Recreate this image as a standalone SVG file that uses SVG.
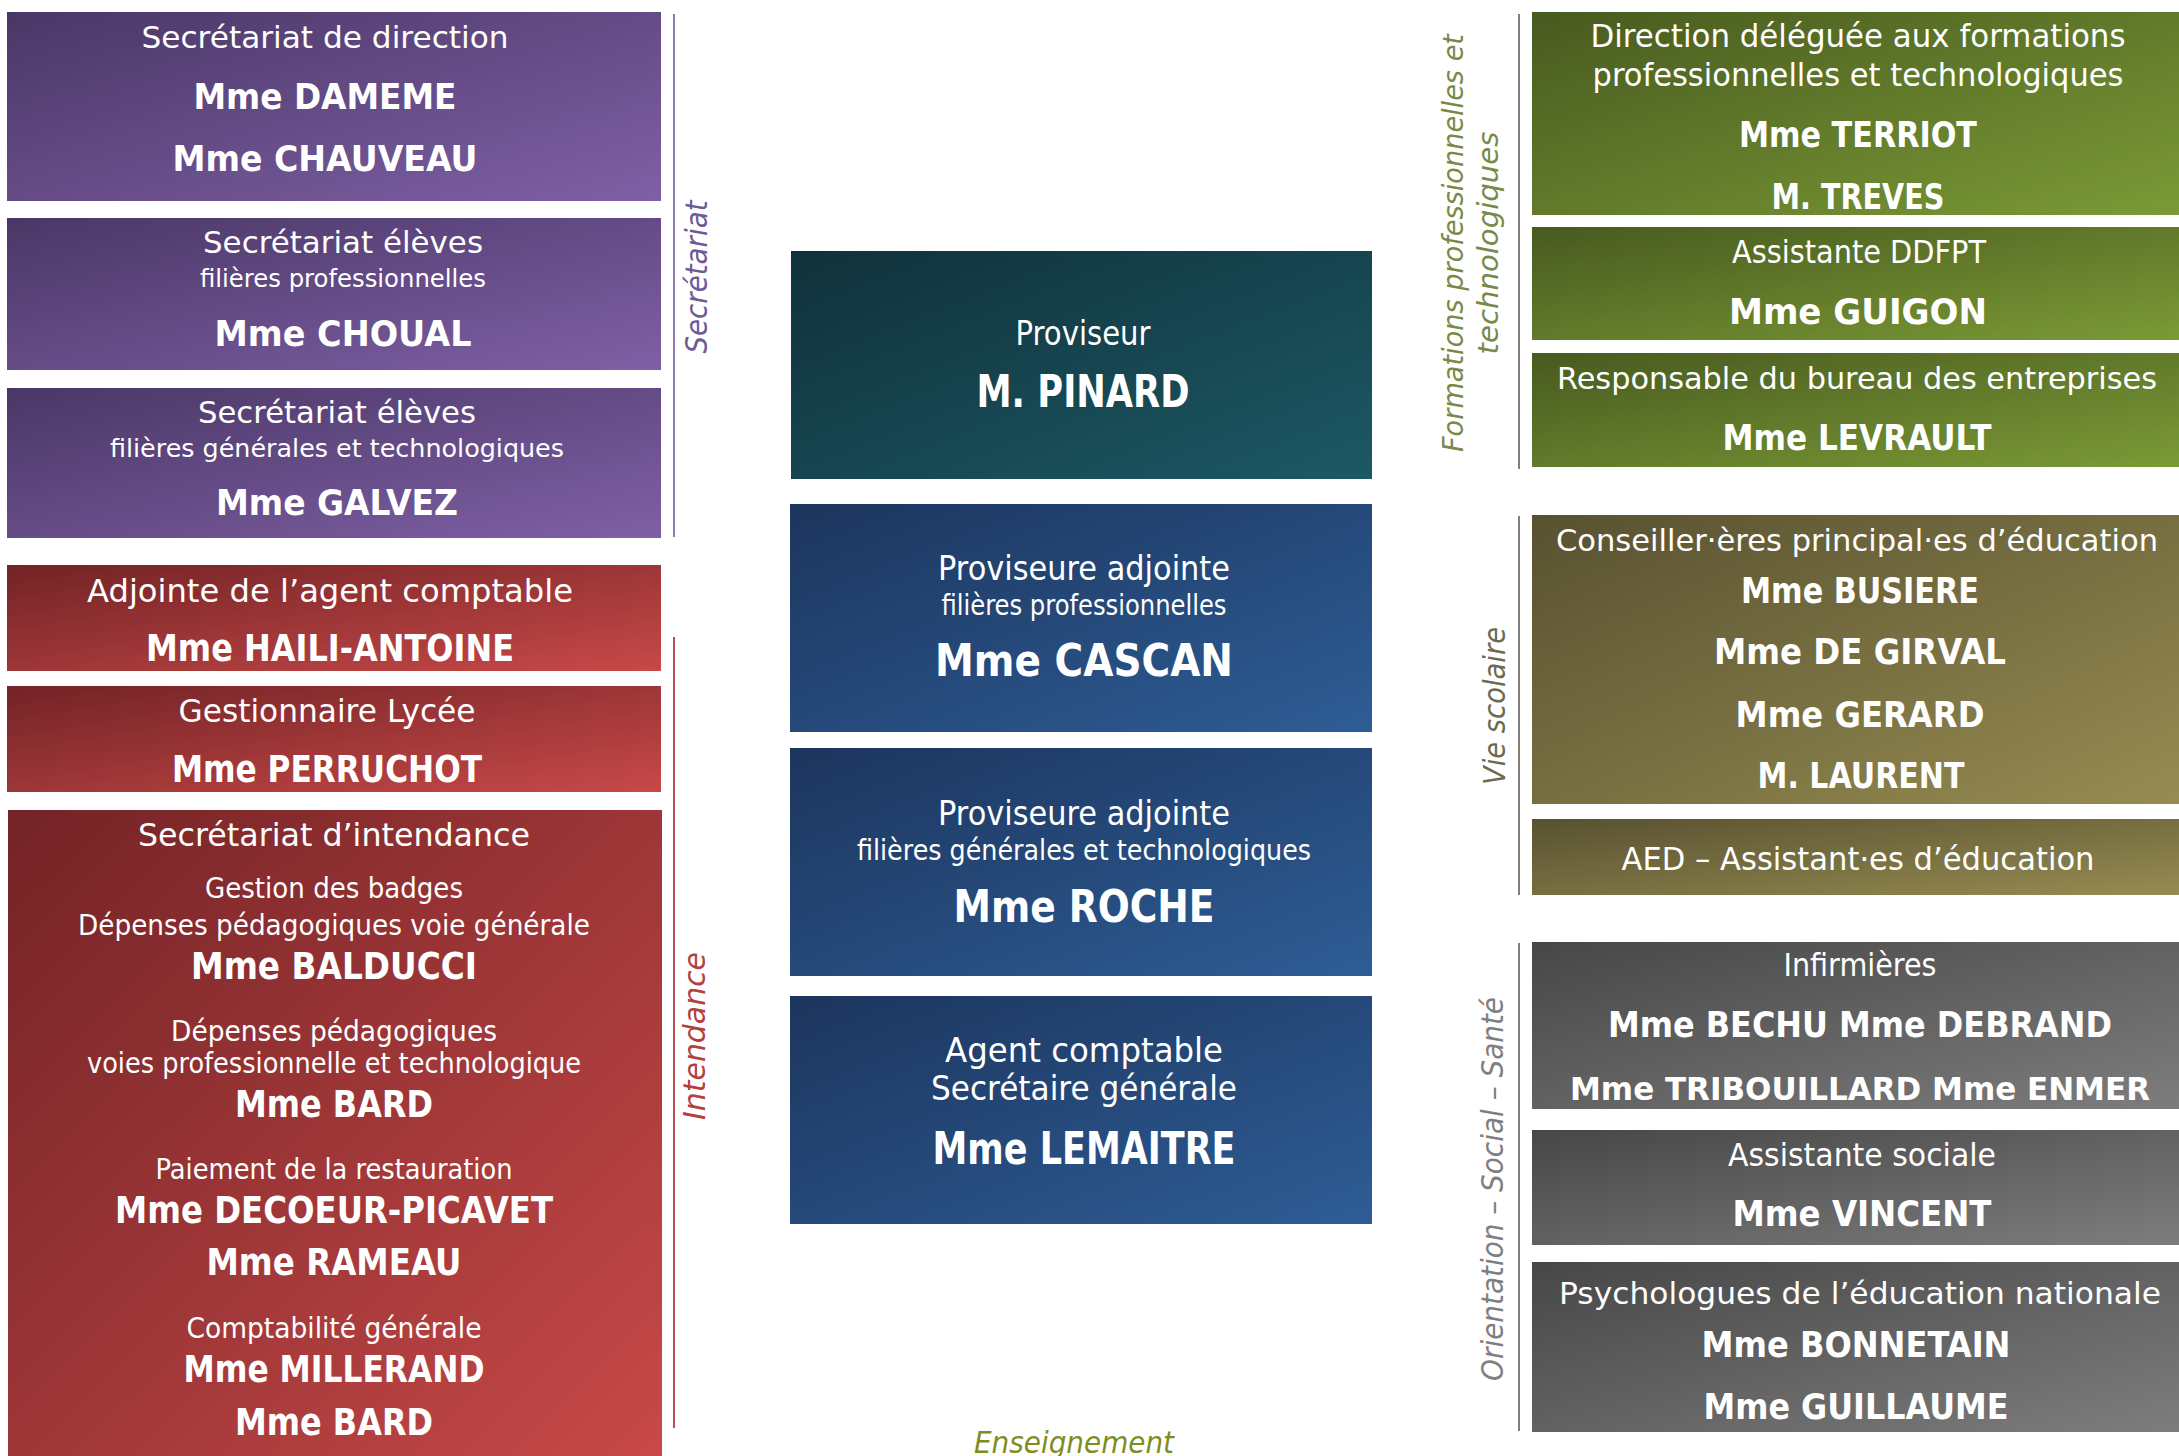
<svg xmlns="http://www.w3.org/2000/svg" width="2179" height="1456" viewBox="0 0 2179 1456">
<defs>
<linearGradient id="gPurple" x1="0" y1="0" x2="1" y2="1"><stop offset="0" stop-color="#4a3766"/><stop offset="1" stop-color="#7f60a6"/></linearGradient>
<linearGradient id="gRed" x1="0" y1="0" x2="1" y2="1"><stop offset="0" stop-color="#732326"/><stop offset="1" stop-color="#c84948"/></linearGradient>
<linearGradient id="gTeal" x1="0" y1="0" x2="1" y2="1"><stop offset="0" stop-color="#10313a"/><stop offset="1" stop-color="#1c5965"/></linearGradient>
<linearGradient id="gBlue" x1="0" y1="0" x2="1" y2="1"><stop offset="0" stop-color="#1c355d"/><stop offset="1" stop-color="#2e5d96"/></linearGradient>
<linearGradient id="gGreen" x1="0" y1="0" x2="1" y2="1"><stop offset="0" stop-color="#485a1f"/><stop offset="1" stop-color="#7b9a36"/></linearGradient>
<linearGradient id="gOlive" x1="0" y1="0" x2="1" y2="1"><stop offset="0" stop-color="#585130"/><stop offset="1" stop-color="#968c52"/></linearGradient>
<linearGradient id="gGray" x1="0" y1="0" x2="1" y2="1"><stop offset="0" stop-color="#474747"/><stop offset="1" stop-color="#7d7d7d"/></linearGradient>
</defs>
<style>
text{font-family:"DejaVu Sans","Liberation Sans",sans-serif;fill:#fff;text-anchor:middle}
.pt{font-size:31px}.ps{font-size:25px}.pn{font-size:35px;font-weight:bold}
.rt{font-size:32px}.rs{font-size:29px}.rn{font-size:37px;font-weight:bold}
.mt{font-size:34px}.ms{font-size:28px}.mn{font-size:44px;font-weight:bold}
.gt{font-size:32px}.gw{font-size:30px}.gn{font-size:36px;font-weight:bold}
.gnw{font-size:32px;font-weight:bold}
.lbl{font-size:30px;font-style:italic}
.lbs{font-size:28px;font-style:italic}
.line{stroke-width:2;fill:none}
</style>
<rect width="2179" height="1456" fill="#fff"/>

<g id="connectors">
<line class="line" x1="674" y1="14" x2="674" y2="537" stroke="#8f7bb0"/>
<line class="line" x1="674" y1="637" x2="674" y2="1428" stroke="#b85050"/>
<line class="line" x1="1519" y1="14" x2="1519" y2="469" stroke="#808080"/>
<line class="line" x1="1519" y1="516" x2="1519" y2="895" stroke="#808080"/>
<line class="line" x1="1519" y1="943" x2="1519" y2="1431" stroke="#808080"/>
</g>

<g id="label-secretariat"><text class="lbl" transform="translate(707,277) rotate(-90)" x="0" y="0" textLength="153" lengthAdjust="spacingAndGlyphs" style="fill:#6e5a96">Secrétariat</text></g>
<g id="label-intendance"><text class="lbl" transform="translate(705,1036) rotate(-90)" x="0" y="0" textLength="168" lengthAdjust="spacingAndGlyphs" style="fill:#b5403f">Intendance</text></g>
<g id="label-formations">
<text class="lbs" transform="translate(1463,243) rotate(-90)" x="0" y="0" textLength="418" lengthAdjust="spacingAndGlyphs" style="fill:#788a48">Formations professionnelles et</text>
<text class="lbs" transform="translate(1498,243) rotate(-90)" x="0" y="0" textLength="223" lengthAdjust="spacingAndGlyphs" style="fill:#788a48">technologiques</text>
</g>
<g id="label-vie"><text class="lbl" transform="translate(1505,706) rotate(-90)" x="0" y="0" textLength="158" lengthAdjust="spacingAndGlyphs" style="fill:#6b6a52">Vie scolaire</text></g>
<g id="label-orientation"><text class="lbl" transform="translate(1503,1189) rotate(-90)" x="0" y="0" textLength="384" lengthAdjust="spacingAndGlyphs" style="fill:#7f7f7f">Orientation – Social – Santé</text></g>
<g id="label-enseignement"><text class="lbl" x="1074" y="1453" textLength="200" lengthAdjust="spacingAndGlyphs" style="fill:#7f8c1e">Enseignement</text></g>

<g id="sec-direction">
<rect x="7" y="12" width="654" height="189" fill="url(#gPurple)"/>
<text class="pt" x="325" y="48" textLength="367" lengthAdjust="spacingAndGlyphs">Secrétariat de direction</text>
<text class="pn" x="325" y="109" textLength="263" lengthAdjust="spacingAndGlyphs">Mme DAMEME</text>
<text class="pn" x="325" y="171" textLength="305" lengthAdjust="spacingAndGlyphs">Mme CHAUVEAU</text>
</g>
<g id="sec-eleves-pro">
<rect x="7" y="218" width="654" height="152" fill="url(#gPurple)"/>
<text class="pt" x="343" y="253" textLength="280" lengthAdjust="spacingAndGlyphs">Secrétariat élèves</text>
<text class="ps" x="343" y="287" textLength="286" lengthAdjust="spacingAndGlyphs">filières professionnelles</text>
<text class="pn" x="343" y="346" textLength="257" lengthAdjust="spacingAndGlyphs">Mme CHOUAL</text>
</g>
<g id="sec-eleves-gt">
<rect x="7" y="388" width="654" height="150" fill="url(#gPurple)"/>
<text class="pt" x="337" y="423" textLength="278" lengthAdjust="spacingAndGlyphs">Secrétariat élèves</text>
<text class="ps" x="337" y="457" textLength="454" lengthAdjust="spacingAndGlyphs">filières générales et technologiques</text>
<text class="pn" x="337" y="515" textLength="242" lengthAdjust="spacingAndGlyphs">Mme GALVEZ</text>
</g>

<g id="adjointe-agent">
<rect x="7" y="565" width="654" height="106" fill="url(#gRed)"/>
<text class="rt" x="330" y="602" textLength="486" lengthAdjust="spacingAndGlyphs">Adjointe de l’agent comptable</text>
<text class="rn" x="330" y="661" textLength="368" lengthAdjust="spacingAndGlyphs">Mme HAILI-ANTOINE</text>
</g>
<g id="gestionnaire">
<rect x="7" y="686" width="654" height="106" fill="url(#gRed)"/>
<text class="rt" x="327" y="722" textLength="297" lengthAdjust="spacingAndGlyphs">Gestionnaire Lycée</text>
<text class="rn" x="327" y="782" textLength="310" lengthAdjust="spacingAndGlyphs">Mme PERRUCHOT</text>
</g>
<g id="sec-intendance">
<rect x="8" y="810" width="654" height="646" fill="url(#gRed)"/>
<text class="rt" x="334" y="846" textLength="392" lengthAdjust="spacingAndGlyphs">Secrétariat d’intendance</text>
<text class="rs" x="334" y="898" textLength="258" lengthAdjust="spacingAndGlyphs">Gestion des badges</text>
<text class="rs" x="334" y="935" textLength="512" lengthAdjust="spacingAndGlyphs">Dépenses pédagogiques voie générale</text>
<text class="rn" x="334" y="979" textLength="286" lengthAdjust="spacingAndGlyphs">Mme BALDUCCI</text>
<text class="rs" x="334" y="1041" textLength="326" lengthAdjust="spacingAndGlyphs">Dépenses pédagogiques</text>
<text class="rs" x="334" y="1073" textLength="494" lengthAdjust="spacingAndGlyphs">voies professionnelle et technologique</text>
<text class="rn" x="334" y="1117" textLength="198" lengthAdjust="spacingAndGlyphs">Mme BARD</text>
<text class="rs" x="334" y="1179" textLength="357" lengthAdjust="spacingAndGlyphs">Paiement de la restauration</text>
<text class="rn" x="334" y="1223" textLength="438" lengthAdjust="spacingAndGlyphs">Mme DECOEUR-PICAVET</text>
<text class="rn" x="334" y="1275" textLength="255" lengthAdjust="spacingAndGlyphs">Mme RAMEAU</text>
<text class="rs" x="334" y="1338" textLength="295" lengthAdjust="spacingAndGlyphs">Comptabilité générale</text>
<text class="rn" x="334" y="1382" textLength="301" lengthAdjust="spacingAndGlyphs">Mme MILLERAND</text>
<text class="rn" x="334" y="1435" textLength="198" lengthAdjust="spacingAndGlyphs">Mme BARD</text>
</g>

<g id="proviseur">
<rect x="791" y="251" width="581" height="228" fill="url(#gTeal)"/>
<text class="mt" x="1083" y="345" textLength="135" lengthAdjust="spacingAndGlyphs">Proviseur</text>
<text class="mn" x="1083" y="407" textLength="213" lengthAdjust="spacingAndGlyphs">M. PINARD</text>
</g>
<g id="adjointe-pro">
<rect x="790" y="504" width="582" height="228" fill="url(#gBlue)"/>
<text class="mt" x="1084" y="580" textLength="292" lengthAdjust="spacingAndGlyphs">Proviseure adjointe</text>
<text class="ms" x="1084" y="615" textLength="285" lengthAdjust="spacingAndGlyphs">filières professionnelles</text>
<text class="mn" x="1084" y="676" textLength="298" lengthAdjust="spacingAndGlyphs">Mme CASCAN</text>
</g>
<g id="adjointe-gt">
<rect x="790" y="748" width="582" height="228" fill="url(#gBlue)"/>
<text class="mt" x="1084" y="825" textLength="292" lengthAdjust="spacingAndGlyphs">Proviseure adjointe</text>
<text class="ms" x="1084" y="860" textLength="454" lengthAdjust="spacingAndGlyphs">filières générales et technologiques</text>
<text class="mn" x="1084" y="922" textLength="261" lengthAdjust="spacingAndGlyphs">Mme ROCHE</text>
</g>
<g id="agent-comptable">
<rect x="790" y="996" width="582" height="228" fill="url(#gBlue)"/>
<text class="mt" x="1084" y="1062" textLength="278" lengthAdjust="spacingAndGlyphs">Agent comptable</text>
<text class="mt" x="1084" y="1100" textLength="306" lengthAdjust="spacingAndGlyphs">Secrétaire générale</text>
<text class="mn" x="1084" y="1164" textLength="303" lengthAdjust="spacingAndGlyphs">Mme LEMAITRE</text>
</g>

<g id="ddfpt">
<rect x="1532" y="12" width="647" height="203" fill="url(#gGreen)"/>
<text class="gt" x="1858" y="47" textLength="535" lengthAdjust="spacingAndGlyphs">Direction déléguée aux formations</text>
<text class="gt" x="1858" y="86" textLength="531" lengthAdjust="spacingAndGlyphs">professionnelles et technologiques</text>
<text class="gn" x="1858" y="147" textLength="238" lengthAdjust="spacingAndGlyphs">Mme TERRIOT</text>
<text class="gn" x="1858" y="209" textLength="173" lengthAdjust="spacingAndGlyphs">M. TREVES</text>
</g>
<g id="assistante-ddfpt">
<rect x="1532" y="227" width="647" height="113" fill="url(#gGreen)"/>
<text class="gt" x="1859" y="263" textLength="254" lengthAdjust="spacingAndGlyphs">Assistante DDFPT</text>
<text class="gn" x="1858" y="324" textLength="258" lengthAdjust="spacingAndGlyphs">Mme GUIGON</text>
</g>
<g id="bureau-entreprises">
<rect x="1532" y="353" width="647" height="114" fill="url(#gGreen)"/>
<text class="gw" x="1857" y="389" textLength="600" lengthAdjust="spacingAndGlyphs">Responsable du bureau des entreprises</text>
<text class="gn" x="1857" y="450" textLength="269" lengthAdjust="spacingAndGlyphs">Mme LEVRAULT</text>
</g>

<g id="cpe">
<rect x="1532" y="515" width="647" height="289" fill="url(#gOlive)"/>
<text class="gw" x="1857" y="551" textLength="602" lengthAdjust="spacingAndGlyphs">Conseiller·ères principal·es d’éducation</text>
<text class="gn" x="1860" y="603" textLength="238" lengthAdjust="spacingAndGlyphs">Mme BUSIERE</text>
<text class="gn" x="1860" y="664" textLength="292" lengthAdjust="spacingAndGlyphs">Mme DE GIRVAL</text>
<text class="gn" x="1860" y="727" textLength="249" lengthAdjust="spacingAndGlyphs">Mme GERARD</text>
<text class="gn" x="1861" y="788" textLength="207" lengthAdjust="spacingAndGlyphs">M. LAURENT</text>
</g>
<g id="aed">
<rect x="1532" y="819" width="647" height="76" fill="url(#gOlive)"/>
<text class="gt" x="1858" y="870" textLength="473" lengthAdjust="spacingAndGlyphs">AED – Assistant·es d’éducation</text>
</g>

<g id="infirmieres">
<rect x="1532" y="942" width="647" height="167" fill="url(#gGray)"/>
<text class="gt" x="1860" y="976" textLength="153" lengthAdjust="spacingAndGlyphs">Infirmières</text>
<text class="gn" x="1860" y="1037" textLength="504" lengthAdjust="spacingAndGlyphs">Mme BECHU Mme DEBRAND</text>
<text class="gnw" x="1860" y="1100" textLength="580" lengthAdjust="spacingAndGlyphs">Mme TRIBOUILLARD Mme ENMER</text>
</g>
<g id="assistante-sociale">
<rect x="1532" y="1130" width="647" height="115" fill="url(#gGray)"/>
<text class="gt" x="1862" y="1166" textLength="268" lengthAdjust="spacingAndGlyphs">Assistante sociale</text>
<text class="gn" x="1862" y="1226" textLength="259" lengthAdjust="spacingAndGlyphs">Mme VINCENT</text>
</g>
<g id="psychologues">
<rect x="1532" y="1262" width="647" height="170" fill="url(#gGray)"/>
<text class="gw" x="1860" y="1304" textLength="602" lengthAdjust="spacingAndGlyphs">Psychologues de l’éducation nationale</text>
<text class="gn" x="1856" y="1357" textLength="309" lengthAdjust="spacingAndGlyphs">Mme BONNETAIN</text>
<text class="gn" x="1856" y="1419" textLength="305" lengthAdjust="spacingAndGlyphs">Mme GUILLAUME</text>
</g>
</svg>
